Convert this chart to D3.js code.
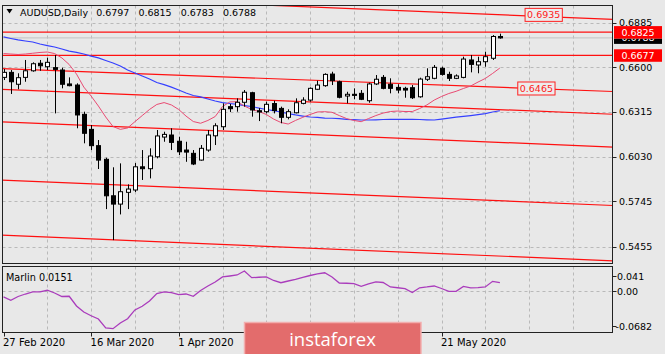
<!DOCTYPE html>
<html><head><meta charset="utf-8">
<script src="https://cdn.jsdelivr.net/npm/d3@7"></script>
<style>
html,body{margin:0;padding:0;background:#e8e8e8;overflow:hidden;}
svg{display:block;font-family:"DejaVu Sans",sans-serif;}
</style></head><body>
<svg id="c" width="665" height="354"></svg>
<script>
// ---------------- data ----------------
const symbol = "AUDUSD,Daily";
const dates = ["2020-02-27","2020-02-28",
"2020-03-02","2020-03-03","2020-03-04","2020-03-05","2020-03-06","2020-03-09","2020-03-10","2020-03-11","2020-03-12","2020-03-13",
"2020-03-16","2020-03-17","2020-03-18","2020-03-19","2020-03-20","2020-03-23","2020-03-24","2020-03-25","2020-03-26","2020-03-27",
"2020-03-30","2020-03-31",
"2020-04-01","2020-04-02","2020-04-03","2020-04-06","2020-04-07","2020-04-08","2020-04-09","2020-04-10","2020-04-13","2020-04-14",
"2020-04-15","2020-04-16","2020-04-17","2020-04-20","2020-04-21","2020-04-22","2020-04-23","2020-04-24","2020-04-27","2020-04-28",
"2020-04-29","2020-04-30",
"2020-05-01","2020-05-04","2020-05-05","2020-05-06","2020-05-07","2020-05-08","2020-05-11","2020-05-12","2020-05-13","2020-05-14",
"2020-05-15","2020-05-18","2020-05-19","2020-05-20","2020-05-21","2020-05-22","2020-05-25","2020-05-26","2020-05-27","2020-05-28",
"2020-05-29","2020-06-01","2020-06-02"];
const open = [.6536,.6568,.6492,.6536,.6578,.6626,.6604,.6598,.6583,.6494,
.6487,.6300,.6204,.6100,.6013,.5780,.5727,.5802,.5817,.5965,
.5953,.6029,.6155,.6168,.6128,.6072,.6051,.6008,.6072,.6163,
.6221,.6349,.6349,.6377,.6438,.6323,.6317,.6369,.6338,.6281,
.6310,.6370,.6391,.6460,.6483,.6557,.6508,.6417,.6428,.6434,
.6387,.6494,.6536,.6492,.6472,.6466,.6470,.6412,.6524,.6530,
.6594,.6555,.6530,.6536,.6647,.6615,.6636,.6658,.6797];
const high = [.6589,.6583,.6562,.6647,.6632,.6647,.6662,.6679,.6598,.6536,
.6498,.6317,.6232,.6136,.6023,.5962,.5987,.5853,.5989,.6072,
.6083,.6200,.6189,.6211,.6157,.6125,.6072,.6104,.6200,.6243,
.6370,.6366,.6402,.6455,.6444,.6340,.6381,.6387,.6349,.6332,
.6402,.6409,.6472,.6515,.6562,.6572,.6515,.6444,.6466,.6455,
.6502,.6551,.6551,.6530,.6492,.6476,.6487,.6534,.6594,.6615,
.6604,.6572,.6555,.6668,.6679,.6668,.6700,.6806,.6815];
const low = [.6519,.6430,.6460,.6508,.6572,.6578,.6583,.6306,.6466,.6479,
.6211,.6115,.6072,.5951,.5695,.5497,.5661,.5695,.5804,.5881,
.5891,.6019,.6125,.6072,.6040,.5997,.5976,.6004,.6061,.6104,
.6200,.6315,.6317,.6349,.6285,.6257,.6306,.6306,.6243,.6268,
.6306,.6364,.6381,.6455,.6476,.6487,.6402,.6370,.6396,.6391,
.6374,.6487,.6460,.6434,.6434,.6406,.6398,.6406,.6513,.6524,
.6547,.6513,.6525,.6530,.6568,.6562,.6604,.6647,.6783];
const close = [.6568,.6508,.6534,.6578,.6623,.6610,.6632,.6587,.6492,.6483,
.6296,.6179,.6100,.6008,.5780,.5727,.5806,.5823,.5965,.5953,
.6034,.6162,.6172,.6121,.6061,.6059,.5983,.6083,.6168,.6227,
.6332,.6336,.6377,.6441,.6328,.6315,.6364,.6324,.6281,.6317,
.6374,.6391,.6466,.6487,.6555,.6515,.6409,.6428,.6421,.6396,
.6494,.6524,.6466,.6466,.6455,.6455,.6406,.6525,.6540,.6600,
.6555,.6530,.6545,.6653,.6619,.6636,.6668,.6797,.6788];
// slow moving average (blue) and fast moving average (pink)
const maSlow = [.6794,.6784,.6775,.6768,.6762,.6749,.6739,.6730,.6717,.6704,
.6696,.6685,.6672,.6660,.6644,.6628,.6609,.6583,.6564,.6545,
.6526,.6503,.6490,.6474,.6455,.6436,.6420,.6411,.6398,.6385,
.6375,.6369,.6363,.6356,.6350,.6340,.6331,.6324,.6315,.6305,
.6296,.6289,.6283,.6280,.6276,.6275,.6272,.6268,.6266,.6264,
.6264,.6265,.6267,.6268,.6268,.6268,.6268,.6267,.6265,.6264,
.6270,.6276,.6282,.6287,.6292,.6298,.6305,.6315,.6323];
const maFast = [.6688,.6685,.6682,.6685,.6690,.6695,.6698,.6688,.6660,.6618,
.6557,.6474,.6417,.6353,.6283,.6222,.6204,.6213,.6253,.6292,
.6331,.6363,.6375,.6360,.6331,.6289,.6254,.6243,.6261,.6286,
.6350,.6379,.6381,.6353,.6331,.6318,.6299,.6270,.6248,.6238,
.6261,.6281,.6299,.6315,.6317,.6313,.6292,.6273,.6261,.6253,
.6273,.6292,.6308,.6318,.6321,.6318,.6318,.6337,.6360,.6391,
.6414,.6433,.6447,.6465,.6481,.6506,.6529,.6561,.6596];
const marlin = [-0.0100,-0.0159,-0.0092,-0.0048,-0.0012,-0.0012,0.0018,-0.0030,-0.0092,-0.0088,
-0.0259,-0.0365,-0.0431,-0.0488,-0.0646,-0.0659,-0.0558,-0.0483,-0.0329,-0.0264,
-0.0171,-0.0039,-0.0012,-0.0025,-0.0060,-0.0048,-0.0088,0.0014,0.0093,0.0164,
0.0252,0.0269,0.0287,0.0358,0.0240,0.0247,0.0255,0.0190,0.0151,0.0181,
0.0208,0.0247,0.0278,0.0305,0.0326,0.0252,0.0146,0.0141,0.0136,0.0088,
0.0129,0.0164,0.0155,0.0076,0.0062,0.0046,-0.0021,0.0062,0.0076,0.0093,
0.0049,0.0000,0.0000,0.0085,0.0060,0.0063,0.0076,0.0175,0.0151];
const priceTicks = [0.6885,0.6600,0.6315,0.6030,0.5745,0.5455];
const marlinTicks = [0.041,0.00,-0.0682];
const marlinTickLabels = ["0.041","0.00","-0.0682"];
const hLevels = [0.6825,0.6677];
// sloping channel lines: price at first bar and at last bar
const trendStart = [0.7066,0.6592,0.6459,0.6252,0.5880,0.5528];
const trendEnd   = [0.6936,0.6473,0.6330,0.6121,0.5748,0.5395];
const noteText = ["0.6935","0.6465"];
const noteBar  = [74,73];
const dateTickBars = [0,12,24,36,48,60];
const dateLabelBars = [0,12,24,60];   // the others are hidden under the watermark
const gridEvery = 6;

// ---------------- layout ----------------
const W=665,H=354;
const M={l:2.5,r:612.5,t:5.5,b:263.5};
const S={t:266.5,b:332.5};
const bg="#e8e8e8";
const svg=d3.select("#c");
svg.append("rect").attr("width",W).attr("height",H).attr("fill",bg);

const n=dates.length-1;
const parse=d3.timeParse("%Y-%m-%d");
const fmtDate=d3.timeFormat("%-d %b %Y");
const f4=d3.format(".4f");
const x=d3.scaleLinear().domain([0,n]).range([3.5,499.9]);
const y=d3.scaleLinear().domain([0.6885,0.5455]).range([22.7,246.7]);
const ym=d3.scaleLinear().domain([-0.0682,0.041]).range([330,268]);
const px=v=>Math.round(v)+0.5;

const defs=svg.append("defs");
defs.append("clipPath").attr("id","cm").append("rect")
  .attr("x",M.l).attr("y",M.t).attr("width",M.r-M.l).attr("height",M.b-M.t);
defs.append("clipPath").attr("id","cs").append("rect")
  .attr("x",M.l).attr("y",S.t).attr("width",M.r-M.l).attr("height",S.b-S.t);

const gm=svg.append("g").attr("clip-path","url(#cm)");
const gs=svg.append("g").attr("clip-path","url(#cs)");

// grid
const gridBars=d3.range(gridEvery,200,gridEvery).filter(b=>x(b)<M.r-1);
const gridStyle=s=>s.attr("stroke","#b9b9b9").attr("stroke-dasharray","3,3").attr("stroke-width",1);
gm.selectAll(".vg").data(gridBars).join("line")
  .attr("x1",d=>px(x(d))).attr("x2",d=>px(x(d))).attr("y1",M.t).attr("y2",M.b).call(gridStyle);
gm.selectAll(".hg").data(priceTicks).join("line")
  .attr("x1",M.l).attr("x2",M.r).attr("y1",d=>px(y(d))).attr("y2",d=>px(y(d))).call(gridStyle);
gs.selectAll(".vg").data(gridBars).join("line")
  .attr("x1",d=>px(x(d))).attr("x2",d=>px(x(d))).attr("y1",S.t).attr("y2",S.b).call(gridStyle);
gs.append("line").attr("x1",M.l).attr("x2",M.r).attr("y1",px(ym(0))).attr("y2",px(ym(0))).call(gridStyle);

// bid line
gm.append("line").attr("x1",M.l).attr("x2",M.r)
  .attr("y1",y(close[n])).attr("y2",y(close[n])).attr("stroke","#c2c2c2").attr("stroke-width",1);

// channel lines
trendStart.forEach((s,k)=>{
  const e=trendEnd[k];
  const p=b=>s+(e-s)*b/n;
  gm.append("line").attr("x1",x(-2)).attr("y1",y(p(-2))).attr("x2",x(95)).attr("y2",y(p(95)))
    .attr("stroke","#ff1010").attr("stroke-width",1.2);
});
// horizontal levels
gm.selectAll(".hl").data(hLevels).join("line")
  .attr("x1",M.l).attr("x2",M.r).attr("y1",d=>y(d)).attr("y2",d=>y(d))
  .attr("stroke","#ff1010").attr("stroke-width",1.2);

// moving averages
const line=d3.line().x((d,i)=>x(i)).y(d=>y(d));
gm.append("path").datum(maSlow).attr("d",line).attr("fill","none").attr("stroke","#3540ff").attr("stroke-width",1.2);
gm.append("path").datum(maFast).attr("d",line).attr("fill","none").attr("stroke","#e84a72").attr("stroke-width",1);

// candles
const bars=d3.range(dates.length);
gm.selectAll(".wick").data(bars).join("line")
  .attr("x1",i=>px(x(i))).attr("x2",i=>px(x(i)))
  .attr("y1",i=>y(high[i])).attr("y2",i=>y(low[i]))
  .attr("stroke","#000").attr("stroke-width",1);
gm.selectAll(".body").data(bars).join("rect")
  .attr("x",i=>Math.round(x(i))-2+0.5).attr("width",4)
  .attr("y",i=>y(Math.max(open[i],close[i])))
  .attr("height",i=>Math.max(1,Math.abs(y(open[i])-y(close[i]))))
  .attr("fill",i=>close[i]>=open[i]?"#fff":"#000")
  .attr("stroke","#000").attr("stroke-width",1);

// text notes on the chart
noteText.forEach((t,k)=>{
  const cx=x(noteBar[k]), cy=y(+t);
  const tx=gm.append("text").attr("x",cx).attr("y",cy+3.6).attr("text-anchor","middle")
    .attr("font-size",9.5).attr("fill","#ff2020").text(t);
  const w=tx.node().getComputedTextLength();
  gm.insert("rect","text").attr("x",cx-w/2-2).attr("y",cy-6.5).attr("width",w+4).attr("height",13)
    .attr("fill","#ececec").attr("stroke","#ff2020").attr("stroke-width",1);
});

// header
const hdr=svg.append("g");
hdr.append("path").attr("d","M6.5,9 L12.5,9 L9.5,13.5 Z").attr("fill","#000");
const ht=hdr.append("text").attr("x",20).attr("y",15.5).attr("font-size",9.5).attr("fill","#000");
ht.append("tspan").text(symbol);
[open[n],high[n],low[n],close[n]].forEach((v,k)=>{
  ht.append("tspan").attr("dx",k===0?8:9).text(f4(v));
});

// marlin indicator
gs.append("path").datum(marlin).attr("d",d3.line().x((d,i)=>x(i)).y(d=>ym(d)))
  .attr("fill","none").attr("stroke","#aa3cbc").attr("stroke-width",1.3);
svg.append("text").attr("x",6).attr("y",281).attr("font-size",9.7).attr("fill","#000")
  .text("Marlin "+f4(marlin[n]));

// frames
svg.append("rect").attr("x",M.l).attr("y",M.t).attr("width",M.r-M.l).attr("height",M.b-M.t)
  .attr("fill","none").attr("stroke","#222").attr("stroke-width",1);
svg.append("rect").attr("x",M.l).attr("y",S.t).attr("width",M.r-M.l).attr("height",S.b-S.t)
  .attr("fill","none").attr("stroke","#222").attr("stroke-width",1);

// price axis
const ax=svg.append("g");
ax.selectAll(".pt").data(priceTicks).join("line")
  .attr("x1",M.r).attr("x2",M.r+4).attr("y1",d=>px(y(d))).attr("y2",d=>px(y(d))).attr("stroke","#222");
ax.selectAll(".pl").data(priceTicks).join("text")
  .attr("x",619).attr("y",d=>y(d)+3.5).attr("font-size",9.5).attr("fill","#000").text(d=>f4(d));
// bid label (mostly hidden behind the first level label, as in the reference)
const bidY=y(close[n]);
const topLevelBottom=y(hLevels[0])+6.5;
defs.append("clipPath").attr("id","cb").append("rect")
  .attr("x",612).attr("y",topLevelBottom).attr("width",53).attr("height",12);
const bid=ax.append("g").attr("clip-path","url(#cb)");
bid.append("rect").attr("x",614).attr("y",bidY-6).attr("width",48).attr("height",12).attr("fill","#000");
bid.append("text").attr("x",638).attr("y",bidY+3.5).attr("text-anchor","middle").attr("font-size",9.5)
  .attr("fill","#fff").text(f4(close[n]));
// level labels
hLevels.forEach(v=>{
  const cy=y(v);
  ax.append("rect").attr("x",614).attr("y",cy-6).attr("width",48).attr("height",12.5).attr("fill","#ff0000");
  ax.append("text").attr("x",638).attr("y",cy+3.8).attr("text-anchor","middle").attr("font-size",9.5)
    .attr("fill","#fff").text(f4(v));
});
// marlin axis
const mOff=[11.5,3.5,-0.5];
marlinTicks.forEach((v,k)=>{
  const ly=ym(v)+mOff[k];
  ax.append("line").attr("x1",M.r).attr("x2",M.r+4).attr("y1",px(ly-3.5)).attr("y2",px(ly-3.5)).attr("stroke","#222");
  ax.append("text").attr("x",v<0?615.5:617).attr("y",ly).attr("font-size",9.5).attr("fill","#000").text(marlinTickLabels[k]);
});

// date axis
const dx=svg.append("g");
dx.selectAll(".dt").data(dateTickBars).join("line")
  .attr("x1",d=>px(x(d))).attr("x2",d=>px(x(d))).attr("y1",S.b).attr("y2",S.b+4).attr("stroke","#222");
dx.selectAll(".dl").data(dateLabelBars).join("text")
  .attr("x",d=>x(d)-0.5).attr("y",346).attr("font-size",10).attr("fill","#000")
  .text(d=>fmtDate(parse(dates[d])));

// watermark
const wm=svg.append("g");
wm.append("rect").attr("x",244.5).attr("y",322.5).attr("width",176.5).attr("height",33)
  .attr("fill","#e36c6c").attr("stroke","#f2aeae").attr("stroke-width",1.5);
wm.append("text").attr("x",332.5).attr("y",345.5).attr("text-anchor","middle")
  .attr("font-family","'Open Sans',sans-serif").attr("font-size",18.5).attr("fill","#fff").text("instaforex");
</script>
</body></html>
